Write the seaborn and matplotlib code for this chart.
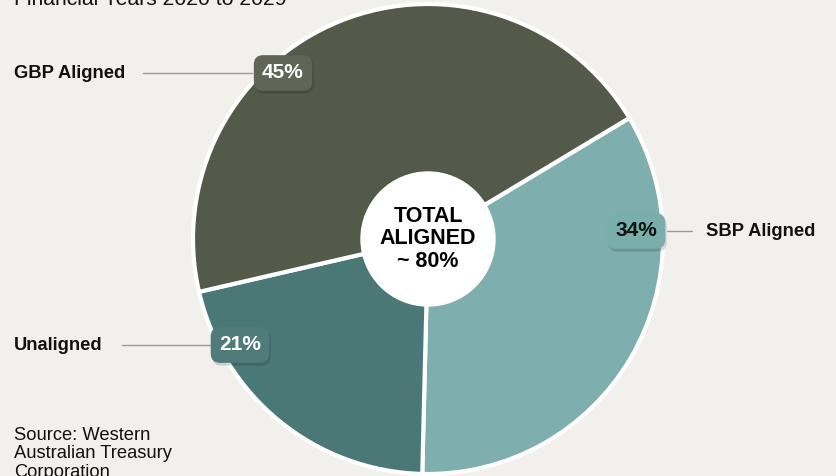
import matplotlib
matplotlib.use("Agg")
import matplotlib.pyplot as plt
import matplotlib.patheffects as pe
import seaborn as sns

# Data
categories = ["SBP Aligned", "Unaligned", "GBP Aligned"]
shares = [34, 21, 45]
pct_labels = ["34%", "21%", "45%"]
title_text = "Financial Years 2020 to 2029"
source_text = "Source: Western\nAustralian Treasury\nCorporation"
center_text = "TOTAL\nALIGNED\n~ 80%"

colors = ["#7eaead", "#4a7877", "#545a4a"]
box_colors = ["#7aaeac", "#4f7c7b", "#5f6656"]
box_text_colors = ["#111111", "white", "white"]
bg = "#f2f0ec"

sns.set_theme(style="white")
plt.rcParams["font.family"] = ["Liberation Sans", "DejaVu Sans"]

W, H = 836, 476
fig = plt.figure(figsize=(W / 100, H / 100), dpi=100, facecolor=bg)
ax = fig.add_axes([0, 0, 1, 1])
ax.set_facecolor(bg)

cx, cy, R = 428, H - 239, 235
wedges, _ = ax.pie(shares, colors=colors, startangle=31, counterclock=False,
                   center=(cx, cy), radius=R,
                   wedgeprops=dict(edgecolor="white", linewidth=3))
ax.set_xlim(0, W)
ax.set_ylim(0, H)
ax.set_aspect("equal")
ax.axis("off")

# center circle
circ = plt.Circle((cx, cy), 67, color="white", zorder=5)
ax.add_patch(circ)
ax.text(cx, cy, center_text, ha="center", va="center", fontsize=15.5,
        fontweight="bold", color="black", linespacing=1.1, zorder=6)

# label positions (pixel coords, y from top)
box_pos = [(636, 231), (240, 345), (283, 73)]
name_pos = [(706, 231, "left"), (14, 346, "left"), (14, 74, "left")]
line_seg = [(667, 692), (122, 212), (143, 252)]

for i in range(3):
    bx, by = box_pos[i]
    nx, ny, ha = name_pos[i]
    x0, x1 = line_seg[i]
    ax.plot([x0, x1], [H - by, H - by], color="#9a9a96", lw=1, zorder=4)
    ax.text(nx, H - ny, categories[i], ha=ha, va="center", fontsize=13.2,
            fontweight="bold", color="#111111", zorder=7)
    t = ax.text(bx, H - by, pct_labels[i], ha="center", va="center",
                fontsize=15, fontweight="bold", color=box_text_colors[i],
                zorder=8,
                bbox=dict(boxstyle="round,pad=0.4,rounding_size=0.45",
                          fc=box_colors[i], ec="none"))
    t.get_bbox_patch().set_path_effects(
        [pe.SimplePatchShadow(offset=(1, -2), alpha=0.15, shadow_rgbFace="black"),
         pe.Normal()])

ax.text(14, H - 5, title_text, ha="left", va="baseline", fontsize=15.2,
        color="#111111")
ax.text(14, H - 427, source_text, ha="left", va="top", fontsize=13.2,
        color="#111111", linespacing=1.1)

fig.savefig("out.png", dpi=100, facecolor=bg)
